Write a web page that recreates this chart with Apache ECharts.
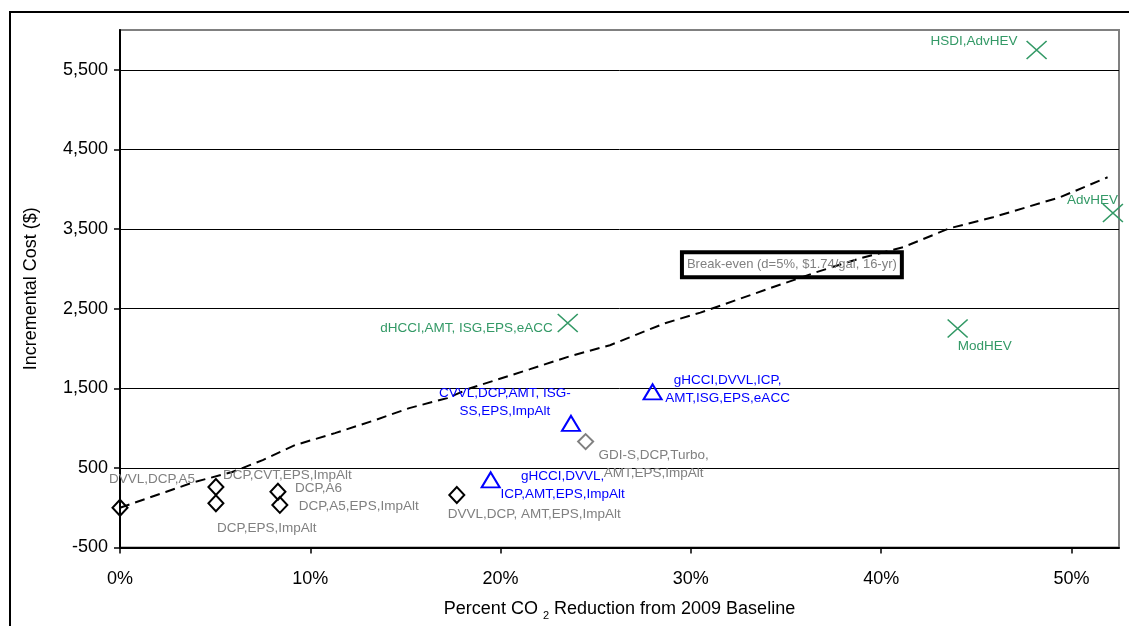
<!DOCTYPE html>
<html><head><meta charset="utf-8">
<script src="https://cdn.jsdelivr.net/npm/echarts@6/dist/echarts.min.js"></script>
<style>html,body{margin:0;padding:0;background:#fff}#c{width:1129px;height:626px}</style>
</head><body><div id="c"></div>
<script>
// ---------- data ----------
const yTicks = [-500, 500, 1500, 2500, 3500, 4500, 5500];
const xTicks = [0, 0.1, 0.2, 0.3, 0.4, 0.5];

const blackNames = ['DVVL,DCP,A5', 'DCP,CVT,EPS,ImpAlt', 'DCP,EPS,ImpAlt', 'DCP,A6', 'DCP,A5,EPS,ImpAlt', 'DVVL,DCP, AMT,EPS,ImpAlt'];
const blackX = [0, 0.0504, 0.0504, 0.083, 0.084, 0.177];
const blackY = [0, 260, 55, 200, 35, 160];

const grayNames = ['GDI-S,DCP,Turbo,\nAMT,EPS,ImpAlt'];
const grayX = [0.2447];
const grayY = [830];

const blueNames = ['gHCCI,DVVL,\nICP,AMT,EPS,ImpAlt', 'CVVL,DCP,AMT, ISG-\nSS,EPS,ImpAlt', 'gHCCI,DVVL,ICP,\nAMT,ISG,EPS,eACC'];
const blueX = [0.1948, 0.237, 0.2799];
const blueY = [350, 1060, 1455];

const greenNames = ['dHCCI,AMT, ISG,EPS,eACC', 'ModHEV', 'HSDI,AdvHEV', 'AdvHEV'];
const greenX = [0.2353, 0.4402, 0.4817, 0.5218];
const greenY = [2320, 2250, 5750, 3700];

const breakX = [0, 0.024, 0.039, 0.059, 0.075, 0.092, 0.113, 0.134, 0.152, 0.172, 0.184, 0.2155, 0.2365, 0.2575, 0.2864, 0.305, 0.3416, 0.366, 0.389, 0.4115, 0.436, 0.4588, 0.494, 0.519];
const breakY = [0, 197, 322, 448, 598, 786, 937, 1100, 1251, 1376, 1500, 1740, 1903, 2041, 2317, 2450, 2757, 2958, 3133, 3271, 3510, 3648, 3899, 4150];
const breakLabel = 'Break-even (d=5%, $1.74/gal, 16-yr)';
const breakBoxAt = [0.3531, 3052];

// ---------- label layout (style, not data) ----------
const blackLayout = [[-11, -28, 'left'], [7, -12, 'left'], [1, 25, 'left'], [17, -3, 'left'], [19, 1, 'left'], [-9, 19, 'left']];
const grayLayout = [[68, 23, 'center']];
const blueLayout = [[72, 5, 'center'], [-66, -21, 'center'], [75, -3, 'center']];
const greenLayout = [[-15, 5, 'right'], [0, 18, 'left'], [-19, -9, 'right'], [5, -13, 'right']];

const FONT = 'Liberation Sans, Arial, sans-serif';

function build(names, xs, ys, layout) {
  return names.map((n, i) => ({
    name: n,
    value: [xs[i], ys[i]],
    label: { offset: [layout[i][0], layout[i][1]], align: layout[i][2] }
  }));
}

function scatter(names, xs, ys, layout, symbol, size, stroke, textColor, bw) {
  return {
    type: 'scatter',
    data: build(names, xs, ys, layout),
    symbol: symbol,
    symbolSize: size,
    clip: false,
    itemStyle: { color: 'rgba(0,0,0,0)', borderColor: stroke, borderWidth: bw, opacity: 1 },
    label: {
      show: true, position: 'inside', formatter: p => p.name,
      color: textColor, fontSize: 13.5, fontFamily: FONT, lineHeight: 18, verticalAlign: 'middle'
    },
    emphasis: { disabled: true },
    z: 3
  };
}

const chart = echarts.init(document.getElementById('c'), null, { renderer: 'canvas' });
chart.setOption({
  animation: false,
  backgroundColor: '#fff',
  textStyle: { fontFamily: FONT },
  graphic: [{
    type: 'rect', silent: true, z: -1,
    shape: { x: 10, y: 12, width: 1160, height: 660 },
    style: { fill: 'none', stroke: '#000', lineWidth: 2 }
  }],
  grid: {
    left: 120, top: 30, right: 10, bottom: 78.5,
    show: true, borderColor: '#808080', borderWidth: 2, backgroundColor: 'transparent',
    outerBoundsMode: 'none'
  },
  xAxis: {
    type: 'value', min: 0, max: 0.525, interval: 0.1,
    name: '{a|Percent CO }{s|2}{a| Reduction from 2009 Baseline}',
    nameLocation: 'middle', nameGap: 51,
    nameTextStyle: {
      rich: {
        a: { fontSize: 18, fontFamily: FONT, color: '#000', lineHeight: 22 },
        s: { fontSize: 11, fontFamily: FONT, color: '#000', lineHeight: 22, padding: [13, 0, 0, 0] }
      }
    },
    axisLine: { show: true, onZero: false, lineStyle: { color: '#000', width: 2 } },
    axisTick: { show: true, length: 6, lineStyle: { color: '#000', width: 1.5 }, customValues: xTicks },
    axisLabel: {
      customValues: xTicks, margin: 23,
      fontSize: 18, color: '#000', fontFamily: FONT,
      formatter: v => (v > 0.51 ? '' : Math.round(v * 100) + '%')
    },
    splitLine: { show: false }
  },
  yAxis: {
    type: 'value', min: -500, max: 6000, interval: 1000,
    name: 'Incremental Cost ($)', nameLocation: 'middle', nameGap: 80,
    nameTextStyle: { fontSize: 18, color: '#000', fontFamily: FONT },
    axisLine: { show: true, onZero: false, lineStyle: { color: '#000', width: 2 } },
    axisTick: { show: true, length: 6, lineStyle: { color: '#000', width: 1.5 }, customValues: yTicks },
    axisLabel: {
      customValues: yTicks, margin: 12,
      fontSize: 18, color: '#000', fontFamily: FONT,
      formatter: v => (v > 5900 ? '' : v.toLocaleString('en-US'))
    },
    splitLine: { show: true, lineStyle: { color: '#000', width: 1 } }
  },
  series: [
    {
      type: 'line',
      data: breakX.map((x, i) => [x, breakY[i]]),
      showSymbol: false, symbol: 'none',
      lineStyle: { color: '#000', width: 2, type: [10, 6] },
      emphasis: { disabled: true },
      z: 2,
      markPoint: {
        symbol: 'circle', symbolSize: 1,
        itemStyle: { color: 'rgba(0,0,0,0)' },
        label: {
          show: true, position: 'inside', formatter: breakLabel, color: '#808080',
          fontSize: 13, fontFamily: FONT, lineHeight: 15,
          borderColor: '#000', borderWidth: 2, padding: [5, 5, 5, 5], backgroundColor: 'rgba(0,0,0,0)'
        },
        emphasis: { disabled: true },
        data: [{ coord: breakBoxAt }]
      }
    },
    scatter(blackNames, blackX, blackY, blackLayout, 'diamond', [15, 16], '#000', '#808080', 2),
    scatter(grayNames, grayX, grayY, grayLayout, 'diamond', [15, 15], '#808080', '#808080', 2),
    scatter(blueNames, blueX, blueY, blueLayout, 'triangle', [18, 15], '#0000ff', '#0000ff', 2),
    scatter(greenNames, greenX, greenY, greenLayout, 'path://M0,0L20,18M20,0L0,18', [20, 18], '#339966', '#339966', 1.5)
  ]
});
</script>
</body></html>
